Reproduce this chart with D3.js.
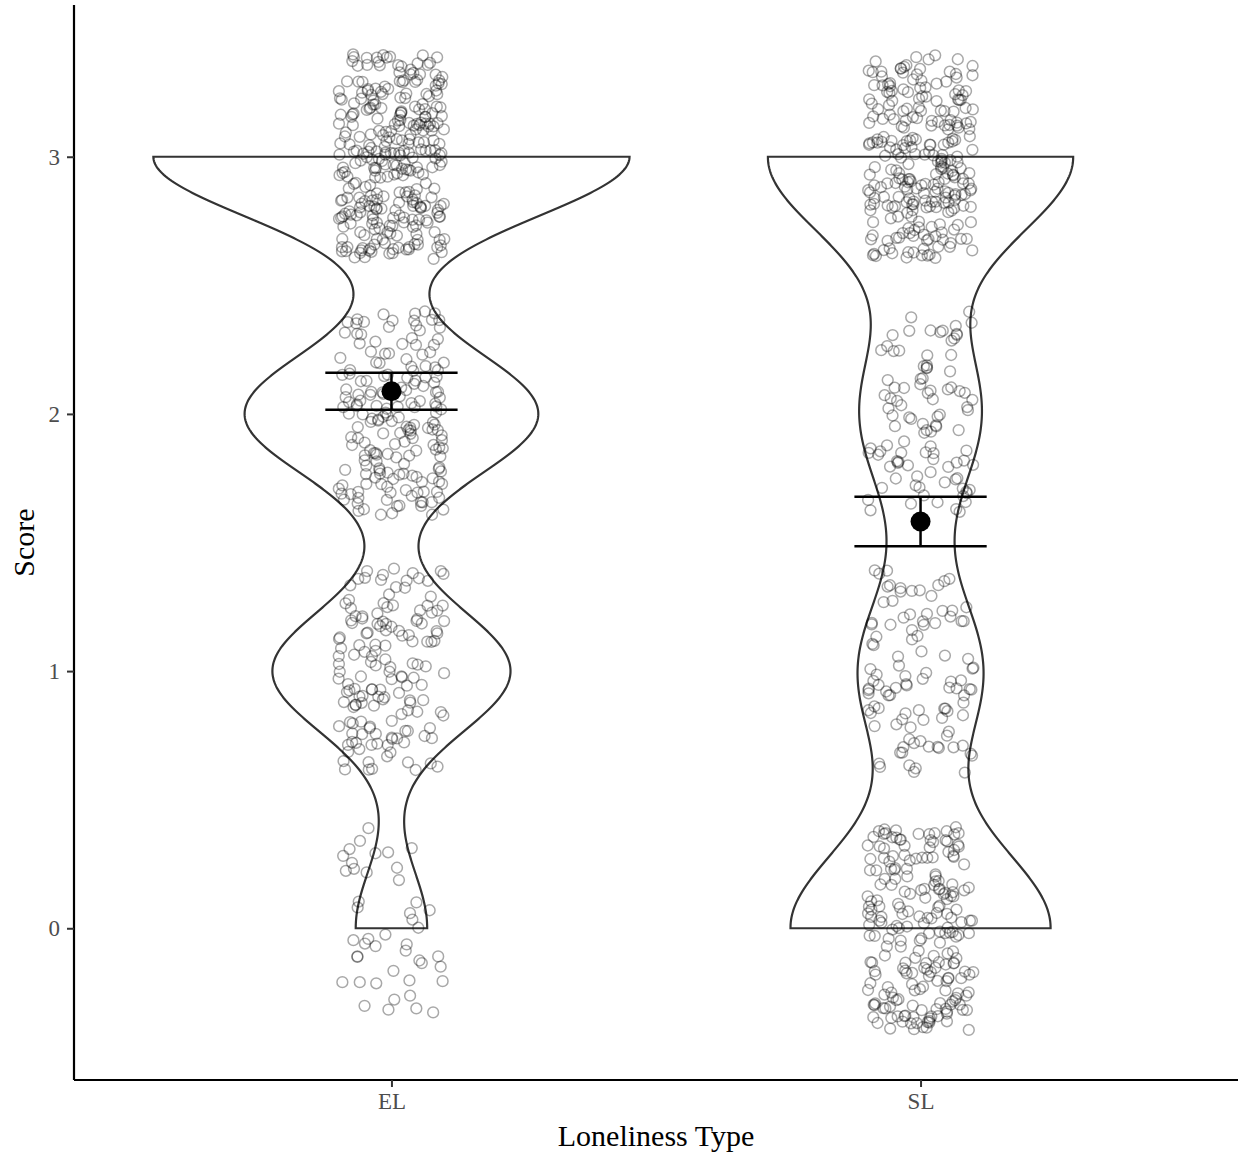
<!DOCTYPE html>
<html>
<head>
<meta charset="utf-8">
<script src="https://cdn.jsdelivr.net/npm/d3@7"></script>
<style>
  body { margin: 0; background: #fff; }
  text { font-family: "Liberation Serif", "Times New Roman", serif; }
</style>
</head>
<body>
<div id="chart"></div>
<script>
// data: number of answers per score level
var groups = ["EL", "SL"];
var scoreLevels = [0, 1, 2, 3];
var countsEL = [45, 150, 185, 300];
var countsSL = [218, 104, 101, 256];
var yTicks = [0, 1, 2, 3];

var width = 1238;
var height = 1154;
var plotLeft = 74, plotRight = 1238, plotTop = 5, plotBottom = 1080;

var svg = d3.select("#chart")
    .append("svg")
    .attr("width", width)
    .attr("height", height);

var x = d3.scalePoint()
    .domain(groups)
    .range([plotLeft, plotRight])
    .padding(0.6);
var step = x.step();

var y = d3.scaleLinear()
    .domain([-0.59, 3.59])
    .range([plotBottom, plotTop]);

// raw values per group
var countsByGroup = { "EL": countsEL, "SL": countsSL };
var raw = {};
groups.forEach(function(g) {
    var vals = [];
    scoreLevels.forEach(function(s, i) {
        for (var k = 0; k < countsByGroup[g][i]; k++) vals.push(s);
    });
    raw[g] = vals;
});

// gaussian kde with R's bw.nrd0, trimmed to data range
function bwNrd0(v) {
    var s = d3.deviation(v);
    var iqr = (d3.quantile(v, 0.75) - d3.quantile(v, 0.25)) / 1.34;
    return 0.9 * Math.min(s, iqr) * Math.pow(v.length, -0.2);
}
var dens = {};
groups.forEach(function(g) {
    var v = raw[g];
    var h = bwNrd0(v);
    var lo = d3.min(v), hi = d3.max(v);
    dens[g] = d3.range(0, 513).map(function(i) {
        var t = lo + (hi - lo) * i / 512;
        var sum = 0;
        scoreLevels.forEach(function(s, j) {
            var z = (t - s) / h;
            sum += countsByGroup[g][j] * Math.exp(-0.5 * z * z);
        });
        return { y: t, d: sum / (v.length * h * Math.sqrt(2 * Math.PI)) };
    });
});
var maxDens = d3.max(groups, function(g) { return d3.max(dens[g], function(p) { return p.d; }); });

// violins
groups.forEach(function(g) {
    var cx = x(g);
    var hw = function(p) { return 0.45 * step * p.d / maxDens; };
    var pts = dens[g];
    var rightSide = pts.map(function(p) { return [cx + hw(p), y(p.y)]; });
    var leftSide = pts.slice().reverse().map(function(p) { return [cx - hw(p), y(p.y)]; });
    svg.append("path")
        .attr("d", d3.line()(rightSide.concat(leftSide)) + "Z")
        .attr("fill", "white")
        .attr("stroke", "#333333")
        .attr("stroke-width", 2.2);
});

// jittered points (fixed seed so the layout is stable)
var rng = d3.randomUniform.source(d3.randomLcg(0.42));
var jx = rng(-0.1, 0.1);
var jy = rng(-0.4, 0.4);
groups.forEach(function(g) {
    svg.append("g")
        .selectAll("circle")
        .data(raw[g])
        .enter()
        .append("circle")
        .attr("cx", function() { return x(g) + jx() * step; })
        .attr("cy", function(d) { return y(d + jy()); })
        .attr("r", 5.4)
        .attr("fill", "none")
        .attr("stroke", "rgba(0,0,0,0.34)")
        .attr("stroke-width", 1.5);
});

// mean with 95% CI
groups.forEach(function(g) {
    var v = raw[g];
    var m = d3.mean(v);
    var se = d3.deviation(v) / Math.sqrt(v.length);
    var ciLo = m - 1.96 * se, ciHi = m + 1.96 * se;
    var cx = x(g);
    var cap = 0.125 * step;
    var eg = svg.append("g").attr("stroke", "black").attr("stroke-width", 2.5);
    eg.append("line").attr("x1", cx).attr("x2", cx).attr("y1", y(ciLo)).attr("y2", y(ciHi));
    eg.append("line").attr("x1", cx - cap).attr("x2", cx + cap).attr("y1", y(ciLo)).attr("y2", y(ciLo));
    eg.append("line").attr("x1", cx - cap).attr("x2", cx + cap).attr("y1", y(ciHi)).attr("y2", y(ciHi));
    svg.append("circle")
        .attr("cx", cx)
        .attr("cy", y(m))
        .attr("r", 10)
        .attr("fill", "black");
});

// axes
var yAxis = svg.append("g")
    .attr("transform", "translate(" + plotLeft + ",0)")
    .call(d3.axisLeft(y).tickValues(yTicks).tickSize(7).tickPadding(7).tickFormat(d3.format("d")));
var xAxis = svg.append("g")
    .attr("transform", "translate(0," + plotBottom + ")")
    .call(d3.axisBottom(x).tickSize(7).tickPadding(6));
[yAxis, xAxis].forEach(function(a) {
    a.select(".domain").attr("stroke", "black").attr("stroke-width", 2.2);
    a.selectAll(".tick line").attr("stroke", "#333333").attr("stroke-width", 2);
    a.selectAll(".tick text")
        .attr("fill", "#4d4d4d")
        .style("font-size", "23px")
        .style("font-family", "'Liberation Serif', serif");
});
yAxis.select(".domain").attr("d", "M0," + plotBottom + "V" + plotTop);
xAxis.select(".domain").attr("d", "M" + plotLeft + ",0H" + plotRight);

svg.append("text")
    .attr("x", (plotLeft + plotRight) / 2)
    .attr("y", 1146)
    .attr("text-anchor", "middle")
    .style("font-size", "30px")
    .text("Loneliness Type");

svg.append("text")
    .attr("transform", "translate(34," + (plotTop + plotBottom) / 2 + ") rotate(-90)")
    .attr("text-anchor", "middle")
    .style("font-size", "30px")
    .text("Score");
</script>
</body>
</html>
